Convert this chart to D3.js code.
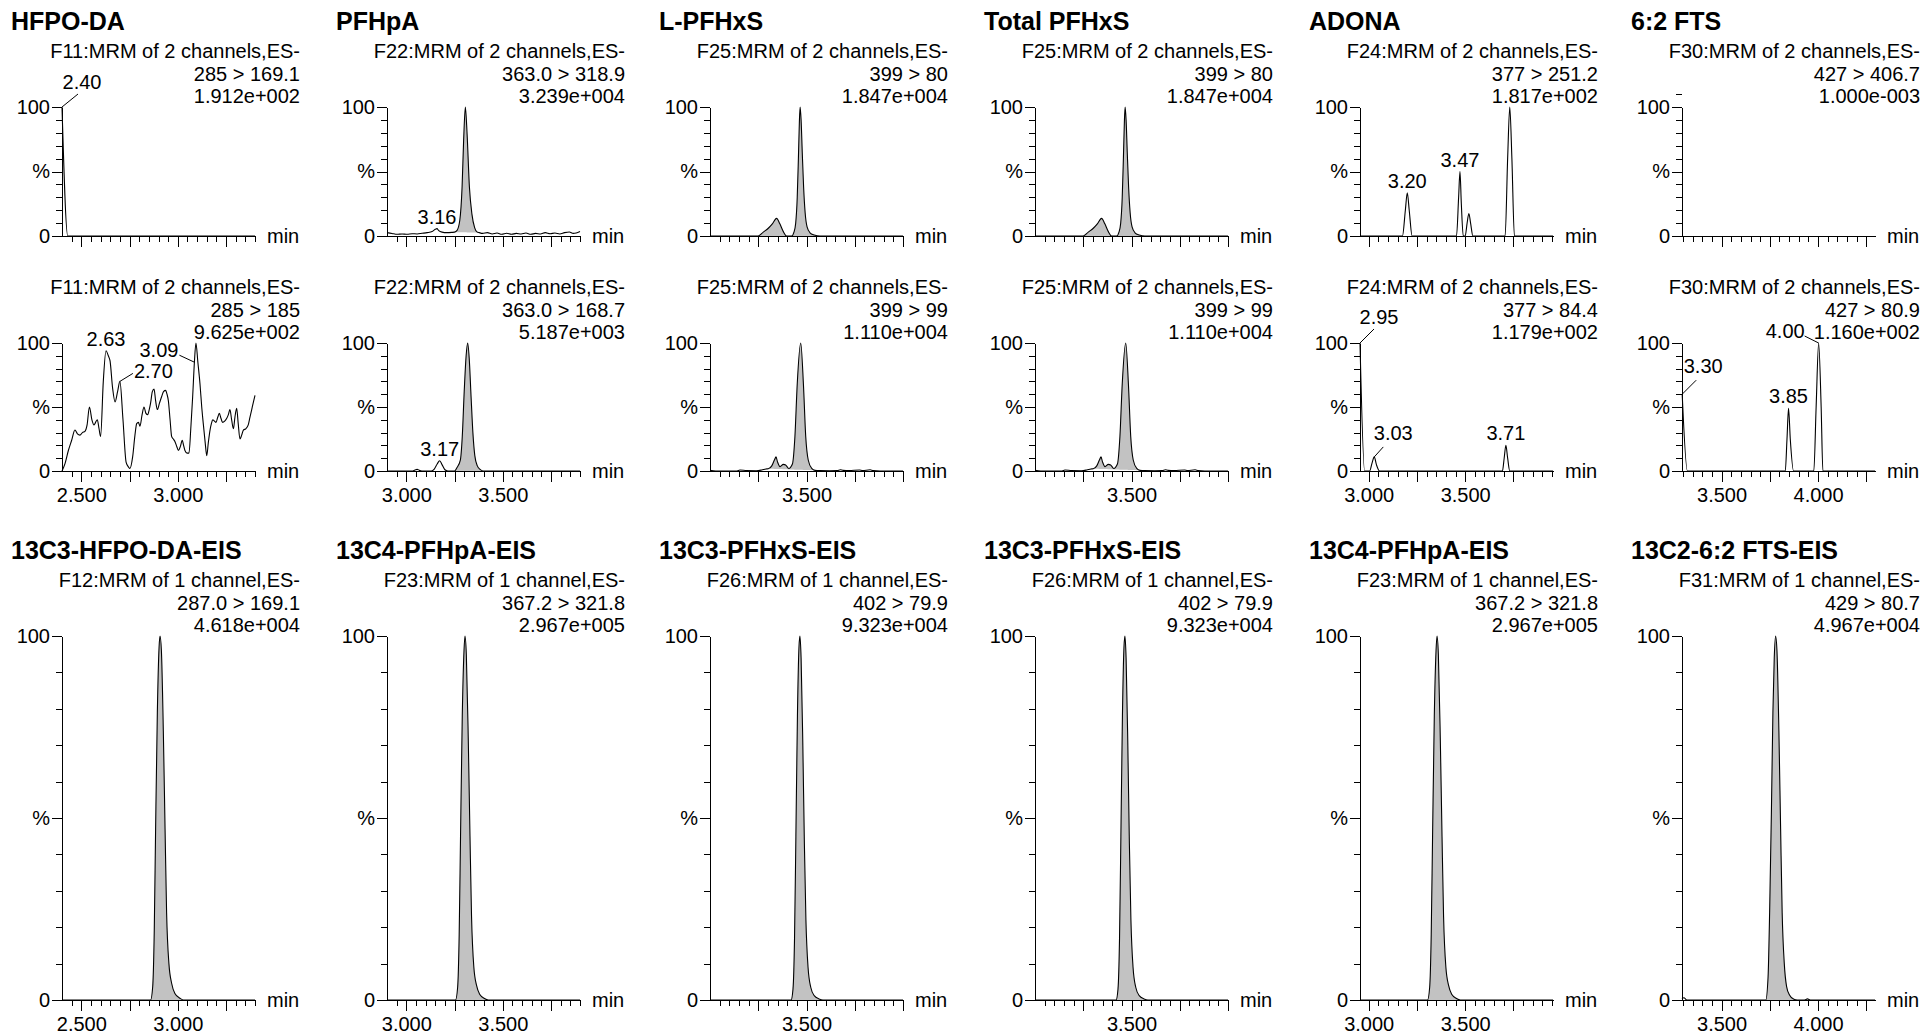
<!DOCTYPE html>
<html><head><meta charset="utf-8">
<script src="https://cdn.jsdelivr.net/npm/d3@7"></script>
<style>
html,body{margin:0;padding:0;background:#fff;}
svg{display:block;}
text{font-family:"Liberation Sans", Arial, Helvetica, sans-serif; fill:#000;}
</style></head><body>
<svg id="chart" width="1923" height="1034"></svg>
<script>
// ---------------- DATA ----------------
const titles = ["HFPO-DA","PFHpA","L-PFHxS","Total PFHxS","ADONA","6:2 FTS"];
const eisTitles = ["13C3-HFPO-DA-EIS","13C4-PFHpA-EIS","13C3-PFHxS-EIS","13C3-PFHxS-EIS","13C4-PFHpA-EIS","13C2-6:2 FTS-EIS"];

const channels12 = ["F11:MRM of 2 channels,ES-","F22:MRM of 2 channels,ES-","F25:MRM of 2 channels,ES-","F25:MRM of 2 channels,ES-","F24:MRM of 2 channels,ES-","F30:MRM of 2 channels,ES-"];
const transitions1 = ["285 > 169.1","363.0 > 318.9","399 > 80","399 > 80","377 > 251.2","427 > 406.7"];
const intensities1 = ["1.912e+002","3.239e+004","1.847e+004","1.847e+004","1.817e+002","1.000e-003"];
const transitions2 = ["285 > 185","363.0 > 168.7","399 > 99","399 > 99","377 > 84.4","427 > 80.9"];
const intensities2 = ["9.625e+002","5.187e+003","1.110e+004","1.110e+004","1.179e+002","1.160e+002"];
const channels3 = ["F12:MRM of 1 channel,ES-","F23:MRM of 1 channel,ES-","F26:MRM of 1 channel,ES-","F26:MRM of 1 channel,ES-","F23:MRM of 1 channel,ES-","F31:MRM of 1 channel,ES-"];
const transitions3 = ["287.0 > 169.1","367.2 > 321.8","402 > 79.9","402 > 79.9","367.2 > 321.8","429 > 80.7"];
const intensities3 = ["4.618e+004","2.967e+005","9.323e+004","9.323e+004","2.967e+005","4.967e+004"];

// retention-time window (min) of each column
const xDomains = [[2.40,3.40],[2.90,3.90],[3.00,4.00],[3.00,4.00],[2.955,3.955],[3.295,4.295]];
const xTickLabels = [["2.500","3.000"],["3.000","3.500"],["3.500"],["3.500"],["3.000","3.500"],["3.500","4.000"]];
const yTickLabels = [["0",0],["%",50],["100",100]];

// chromatogram traces: [time (min), intensity (%)]
const hfpoR1 = [[2.400,100],[2.430,0],[3.400,0]];
const hfpoR2 = [[2.400,0],[2.416,6],[2.433,16],[2.450,24],[2.467,32],[2.480,29],[2.493,28],[2.506,30],[2.519,31],[2.530,36],[2.542,50],[2.555,40],[2.566,36],[2.574,38],[2.583,40],[2.592,33],[2.600,27],[2.614,70],[2.628,94],[2.640,90],[2.649,86],[2.662,65],[2.675,54],[2.688,62],[2.700,70],[2.716,40],[2.732,7],[2.745,3],[2.752,2],[2.766,11],[2.778,28],[2.787,37],[2.796,38],[2.804,35],[2.815,44],[2.825,50],[2.835,45],[2.844,44],[2.852,48],[2.859,53],[2.868,62],[2.877,64],[2.885,55],[2.894,48],[2.905,53],[2.916,58],[2.926,62],[2.937,63],[2.944,60],[2.951,55],[2.960,40],[2.968,27],[2.977,25],[2.985,23],[2.995,19],[3.003,16],[3.013,19],[3.023,24],[3.030,20],[3.037,16],[3.048,14],[3.058,14],[3.068,35],[3.077,58],[3.086,85],[3.094,100],[3.104,85],[3.115,68],[3.124,50],[3.132,37],[3.142,22],[3.150,12],[3.158,22],[3.167,32],[3.174,37],[3.181,40],[3.190,39],[3.198,38],[3.207,42],[3.215,45],[3.224,41],[3.232,38],[3.243,39],[3.253,41],[3.262,44],[3.270,48],[3.279,40],[3.288,33],[3.296,42],[3.305,49],[3.313,37],[3.322,25],[3.331,28],[3.340,32],[3.352,33],[3.365,36],[3.374,42],[3.383,48],[3.392,54],[3.400,59]];
const pfhpaR1 = [[2.900,2.6],[2.926,2.0],[2.952,1.3],[2.978,1.6],[3.004,1.3],[3.030,1.8],[3.056,1.6],[3.082,2.1],[3.108,2.6],[3.134,3.4],[3.150,5.2],[3.159,5.7],[3.168,4.2],[3.185,3.0],[3.210,2.6],[3.236,2.8],[3.250,3.0],[3.263,4.4],[3.277,12],[3.289,38],[3.297,74],[3.306,100],[3.315,79],[3.327,38],[3.340,17],[3.354,6.5],[3.366,3.2],[3.378,2.6],[3.395,2.0],[3.420,2.6],[3.445,1.6],[3.470,2.3],[3.495,1.3],[3.520,2.1],[3.545,1.3],[3.570,2.0],[3.595,1.6],[3.620,2.3],[3.645,1.3],[3.670,2.0],[3.695,1.6],[3.720,2.6],[3.745,1.8],[3.770,2.3],[3.795,1.6],[3.820,2.6],[3.845,3.1],[3.865,2.0],[3.880,2.3],[3.900,3.4]];
const pfhpaR2 = [[2.900,0],[3.030,0],[3.045,0.8],[3.056,1.3],[3.068,0.5],[3.080,0],[3.130,0],[3.145,1.5],[3.160,5.5],[3.173,8],[3.185,5],[3.200,1],[3.215,0],[3.250,0],[3.262,2.5],[3.280,8.5],[3.290,27],[3.300,62],[3.310,90],[3.318,100],[3.326,88],[3.335,60],[3.345,30],[3.355,12],[3.368,4],[3.382,1.3],[3.400,0],[3.900,0]];
const pfhxsR1 = [[3.000,0],[3.250,0],[3.276,3],[3.302,6],[3.323,9.4],[3.345,13.7],[3.362,9.4],[3.380,3.4],[3.397,0],[3.423,0],[3.435,3],[3.444,10],[3.452,30],[3.458,60],[3.463,88],[3.467,100],[3.472,90],[3.478,65],[3.485,38],[3.493,18],[3.503,7],[3.518,2.5],[3.540,0.8],[3.570,0],[4.000,0]];
const pfhxsR2 = [[3.000,0.5],[3.030,0],[3.140,0],[3.155,0.8],[3.190,0.3],[3.240,0.2],[3.268,0.8],[3.290,1.6],[3.302,1.8],[3.320,4],[3.335,9],[3.342,11],[3.350,7],[3.363,3.4],[3.380,5.2],[3.392,4.7],[3.408,2],[3.427,5.5],[3.440,27],[3.452,68],[3.470,100],[3.484,68],[3.496,27],[3.509,8.6],[3.527,2],[3.544,0.5],[3.570,0.3],[3.620,0.2],[3.660,0.3],[3.675,1],[3.690,0.5],[3.720,0.3],[3.775,0.8],[3.790,0.3],[3.830,1],[3.845,0.3],[3.880,0],[4.000,0]];
const adonaR1 = [[2.955,0],[3.175,0],[3.190,20],[3.200,33.5],[3.210,20],[3.225,0],[3.455,0],[3.466,30],[3.473,50],[3.480,25],[3.490,0],[3.500,0],[3.510,10],[3.519,17.5],[3.528,10],[3.540,0],[3.707,0],[3.720,60],[3.731,100],[3.742,60],[3.755,0],[3.955,0]];
const adonaR2 = [[2.955,100],[2.979,0],[3.005,0],[3.017,6],[3.029,11],[3.040,5],[3.056,0],[3.693,0],[3.702,10],[3.711,20],[3.720,10],[3.731,0],[3.955,0]];
const ftsR1 = [];
const ftsR2 = [[3.296,60],[3.323,0],[3.830,0],[3.839,25],[3.847,49],[3.856,25],[3.873,0],[3.978,0],[3.990,50],[4.003,100],[4.016,50],[4.025,0],[4.295,0]];
const hfpoEIS = [[2.400,0],[2.859,0],[2.870,3.7],[2.878,19],[2.885,47],[2.894,79],[2.903,97],[2.908,100],[2.915,96],[2.925,74],[2.934,47],[2.942,24],[2.954,10],[2.968,4.6],[2.985,1.8],[3.011,0.5],[3.029,0],[3.400,0]];
const pfhpaEIS = [[2.900,0],[3.255,0],[3.266,3.5],[3.274,18],[3.281,45],[3.290,78],[3.299,96],[3.304,100],[3.311,95],[3.321,72],[3.330,45],[3.338,23],[3.350,9],[3.364,4],[3.381,1.5],[3.405,0.4],[3.425,0],[3.900,0]];
const pfhxsEIS = [[3.000,0],[3.420,0],[3.430,3],[3.438,17],[3.445,45],[3.453,78],[3.461,97],[3.466,100],[3.472,94],[3.481,70],[3.489,43],[3.497,22],[3.508,9],[3.522,3.5],[3.540,1.2],[3.565,0.3],[3.585,0],[4.000,0]];
const adonaEIS = [[2.955,0],[3.305,0],[3.316,3.5],[3.324,18],[3.331,45],[3.340,78],[3.349,96],[3.354,100],[3.361,95],[3.371,72],[3.380,45],[3.388,23],[3.400,9],[3.414,4],[3.431,1.5],[3.455,0.4],[3.475,0],[3.955,0]];
const ftsEIS = [[3.295,0.3],[3.305,0.6],[3.320,0],[3.729,0],[3.741,6.4],[3.749,24],[3.758,51],[3.766,79],[3.773,94],[3.780,100],[3.787,96],[3.797,74],[3.806,47],[3.814,24],[3.825,10],[3.837,3.7],[3.852,1.4],[3.875,0.2],[3.892,0],[3.930,0],[3.945,0.3],[3.960,0],[4.295,0]];

// integrated (shaded) peak ranges [start, end] in min
const fillsR1 = [[],[[3.250,3.378]],[[3.250,3.397],[3.423,3.570]],[[3.250,3.397],[3.423,3.570]],[],[]];
const fillsR2 = [[],[[3.250,3.400]],[[3.302,3.544]],[[3.302,3.544]],[],[]];
const fillsR3 = [[[2.859,3.029]],[[3.255,3.425]],[[3.420,3.585]],[[3.420,3.585]],[[3.305,3.475]],[[3.729,3.892]]];

// peak retention-time labels [time, text]
const labelsR1 = [[[2.40,"2.40"]],[[3.16,"3.16"]],[],[],[[3.20,"3.20"],[3.47,"3.47"]],[]];
const labelsR2 = [[[2.63,"2.63"],[2.70,"2.70"],[3.09,"3.09"]],[[3.17,"3.17"]],[],[],[[2.95,"2.95"],[3.03,"3.03"],[3.71,"3.71"]],[[3.30,"3.30"],[3.85,"3.85"],[4.00,"4.00"]]];
const labelsR3 = [[],[],[],[],[],[]];

const extraYTicks = [[],[],[],[],[],[110]];

// ---------------- LAYOUT ----------------
const colX = [62, 387, 710, 1035, 1360, 1682];
const plotW = 193;
const FS = 20;
const rows = [
  {top:107, bottom:236, title:titles, ch:channels12, tr:transitions1, it:intensities1, traces:[hfpoR1,pfhpaR1,pfhxsR1,pfhxsR1,adonaR1,ftsR1], fills:fillsR1, labels:labelsR1, xlab:false, extra:extraYTicks},
  {top:343, bottom:471, title:null, ch:channels12, tr:transitions2, it:intensities2, traces:[hfpoR2,pfhpaR2,pfhxsR2,pfhxsR2,adonaR2,ftsR2], fills:fillsR2, labels:labelsR2, xlab:true, extra:null},
  {top:636, bottom:1000, title:eisTitles, ch:channels3, tr:transitions3, it:intensities3, traces:[hfpoEIS,pfhpaEIS,pfhxsEIS,pfhxsEIS,adonaEIS,ftsEIS], fills:fillsR3, labels:labelsR3, xlab:true, extra:null}
];
const place = {
  "0-0-2.40": {a:"middle", dx:20, dy:-18, lx:16, ly:-13},
  "1-0-2.70": {a:"start", dx:14, dy:-3, lx:13, ly:-8},
  "1-0-3.09": {a:"end", dx:-16, dy:-5, lx:-15, ly:-7},
  "1-4-2.95": {a:"middle", dx:19, dy:-19, lx:14, ly:-14},
  "1-4-3.03": {a:"middle", dx:19, dy:-17, lx:9, ly:-10},
  "1-5-3.30": {a:"middle", dx:21, dy:-21, lx:14, ly:-14},
  "1-5-4.00": {a:"end", dx:-14, dy:-5, lx:-14, ly:-7}
};

const svg = d3.select("#chart");

rows.forEach((R, r) => {
  for (let c = 0; c < 6; c++) {
    const dom = xDomains[c];
    const x = d3.scaleLinear().domain(dom).range([colX[c], colX[c] + plotW]);
    const y = d3.scaleLinear().domain([0, 100]).range([R.bottom, R.top]);
    const g = svg.append("g");

    if (R.title) {
      g.append("text").attr("x", colX[c] - 51).attr("y", R.top - 77)
        .attr("font-size", 25).attr("font-weight", "bold").text(R.title[c]);
    }
    const hx = colX[c] + 238;
    [[R.ch[c], -49], [R.tr[c], -26], [R.it[c], -4]].forEach(([t, dy]) => {
      g.append("text").attr("x", hx).attr("y", R.top + dy).attr("text-anchor", "end")
        .attr("font-size", FS).text(t);
    });

    const yMinor = d3.axisLeft(y).tickValues(d3.range(0, 101, 10)).tickSize(6).tickSizeOuter(0).tickFormat("");
    g.append("g").attr("transform", `translate(${colX[c]},0)`).call(yMinor);
    const yMajor = d3.axisLeft(y).tickValues(yTickLabels.map(d => d[1])).tickSize(10).tickSizeOuter(0)
      .tickPadding(2).tickFormat((v, i) => yTickLabels[i][0]);
    const yMajG = g.append("g").attr("transform", `translate(${colX[c]},0)`).call(yMajor);
    yMajG.select(".domain").remove();
    yMajG.selectAll("text").attr("font-size", FS).attr("font-family", null);

    if (R.extra && R.extra[c].length) {
      R.extra[c].forEach(v => {
        g.append("line").attr("x1", colX[c] - 6).attr("x2", colX[c]).attr("y1", y(v)).attr("y2", y(v))
          .attr("stroke", "#000").attr("shape-rendering", "crispEdges");
      });
    }

    const minorVals = d3.range(Math.ceil(dom[0] / 0.05 - 1e-6), Math.floor(dom[1] / 0.05 + 1e-6) + 1)
      .map(k => +(k * 0.05).toFixed(3)).filter(v => v > dom[0] + 0.004 && v <= dom[1] + 1e-6);
    const majorVals = minorVals.filter(v => Math.abs(v / 0.25 - Math.round(v / 0.25)) < 1e-6);
    const xMinor = d3.axisBottom(x).tickValues(minorVals).tickSize(6).tickSizeOuter(0).tickFormat("");
    g.append("g").attr("transform", `translate(0,${R.bottom})`).call(xMinor);
    const xMajor = d3.axisBottom(x).tickValues(majorVals).tickSize(11).tickSizeOuter(0).tickFormat("");
    g.append("g").attr("transform", `translate(0,${R.bottom})`).call(xMajor).select(".domain").remove();
    if (R.xlab) {
      const labs = xTickLabels[c];
      const xLab = d3.axisBottom(x).tickValues(labs.map(Number)).tickSize(0).tickPadding(17)
        .tickFormat((v, i) => labs[i]);
      const xl = g.append("g").attr("transform", `translate(0,${R.bottom})`).call(xLab);
      xl.select(".domain").remove();
      xl.selectAll("text").attr("font-size", FS).attr("font-family", null);
    }
    g.selectAll(".domain, .tick line").attr("stroke", "#000").attr("shape-rendering", "crispEdges");
    g.selectAll(".tick text").attr("fill", "#000");

    g.append("text").attr("x", colX[c] + plotW + 12).attr("y", R.bottom).attr("dy", "0.35em")
      .attr("font-size", FS).text("min");

    const data = R.traces[c];
    if (data.length) {
      R.fills[c].forEach(([t0, t1]) => {
        const seg = data.filter(d => d[0] >= t0 - 1e-6 && d[0] <= t1 + 1e-6);
        if (seg.length < 2) return;
        const a = seg[0], b = seg[seg.length - 1];
        const base = t => a[1] + (b[1] - a[1]) * (t - a[0]) / (b[0] - a[0]);
        const area = d3.area().x(d => x(d[0])).y0(d => y(base(d[0]))).y1(d => y(d[1])).curve(d3.curveMonotoneX);
        g.append("path").datum(seg).attr("d", area).attr("fill", "#c2c2c2").attr("stroke", "none");
      });
      const line = d3.line().x(d => x(d[0])).y(d => y(d[1])).curve(d3.curveMonotoneX);
      g.append("path").datum(data).attr("d", line).attr("fill", "none").attr("stroke", "#000").attr("stroke-width", 1.1);
    }

    R.labels[c].forEach(([t, txt]) => {
      let best = data[0];
      data.forEach(d => { if (Math.abs(d[0] - t) < Math.abs(best[0] - t)) best = d; });
      const px = x(best[0]), py = y(best[1]);
      const p = place[`${r}-${c}-${txt}`] || {a:"middle", dx:0, dy:-5};
      if (p.lx !== undefined) {
        g.append("line").attr("x1", px).attr("y1", py).attr("x2", px + p.lx).attr("y2", py + p.ly)
          .attr("stroke", "#000").attr("stroke-width", 1);
      }
      g.append("text").attr("x", px + p.dx).attr("y", py + p.dy).attr("text-anchor", p.a)
        .attr("font-size", FS).text(txt);
    });
  }
});
</script></body></html>
